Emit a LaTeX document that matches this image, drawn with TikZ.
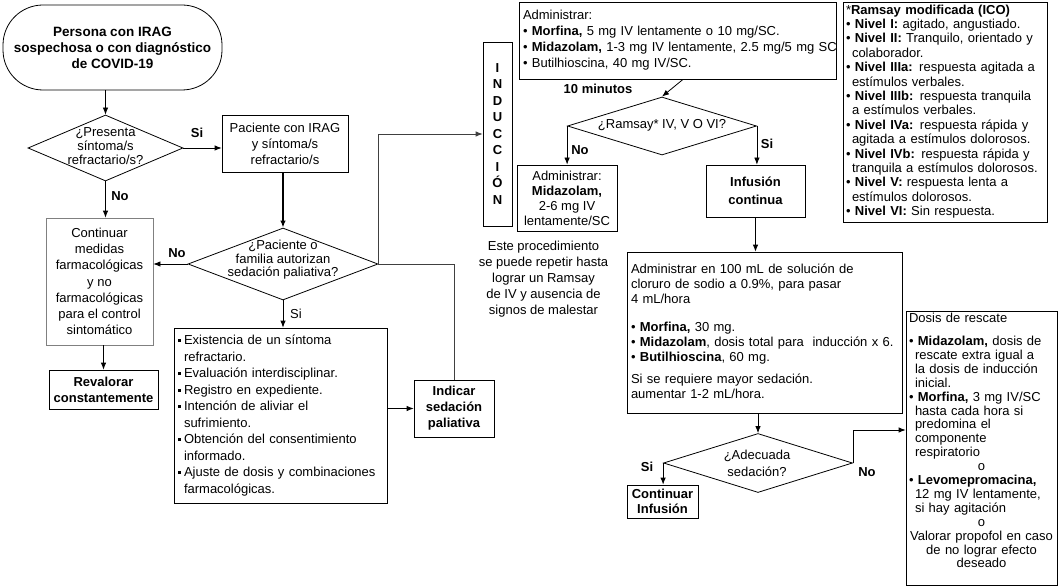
\documentclass[tikz,border=0pt]{standalone}
\usepackage{fontspec}
\setmainfont{Liberation Sans}
\usetikzlibrary{arrows.meta,shapes.geometric,calc}
\newcommand{\sqb}{\raisebox{2.5pt}{\rule{3pt}{3pt}}\hspace{3pt}}
\newcommand{\ind}{\hspace*{6pt}}
\newcommand{\rows}[1]{\begin{tabular}{@{}l@{}}#1\end{tabular}}
\begin{document}
\begin{tikzpicture}[x=1pt,y=-1pt,
  font=\fontsize{13}{15}\selectfont,
  box/.style={draw, rectangle, inner sep=0pt, align=center, line width=0.8pt},
  lbox/.style={box, align=left},
  dia/.style={draw, diamond, inner sep=0pt, line width=0.8pt},
  lab/.style={inner sep=0pt, font=\fontsize{13}{15}\selectfont\bfseries},
  txt/.style={inner sep=0pt, align=center},
  arr/.style={-{Latex[length=7pt,width=5.5pt]}, line width=0.8pt},
  ln/.style={line width=0.8pt}]
\useasboundingbox (0,0) rectangle (1059,588);

% left column
\node[box, rounded corners=40pt, minimum width=219pt, minimum height=85pt,
  font=\fontsize{13.5}{16}\selectfont\bfseries] (start) at (112.5,47.5)
  {Persona con IRAG\\sospechosa o con diagnóstico\\de COVID-19};
\node[dia, minimum width=155pt, minimum height=66pt] (d1) at (105.5,148) {};
\node[txt, font=\fontsize{13}{14}\selectfont] (d1t) at (105.5,146)
  {¿Presenta\\síntoma/s\\refractario/s?};
\node[box, minimum width=126pt, minimum height=57pt,
  font=\fontsize{13}{16}\selectfont] (pac) at (285,143.5)
  {Paciente con IRAG\\y síntoma/s\\refractario/s};
\node[dia, minimum width=190pt, minimum height=72pt] (d2) at (283,264) {};
\node[txt, font=\fontsize{13}{13.5}\selectfont] (d2t) at (283,260)
  {¿Paciente o\\familia autorizan\\sedación paliativa?};
\node[box, draw=black!50, minimum width=107pt, minimum height=127pt,
  font=\fontsize{13}{16.2}\selectfont] (cont) at (99.5,281.5)
  {Continuar\\medidas\\farmacológicas\\y no\\farmacológicas\\para el control\\sintomático};
\node[box, minimum width=109pt, minimum height=39pt,
  font=\fontsize{13}{16}\selectfont\bfseries] (reval) at (103.5,389.5)
  {Revalorar\\constantemente};
\node[lbox, minimum width=213pt, minimum height=175pt, text width=205pt,
  font=\fontsize{13}{16.5}\selectfont] (list) at (280.5,415.5)
  {\rows{\sqb Existencia de un síntoma\\
   \ind refractario.\\
   \sqb Evaluación interdisciplinar.\\
   \sqb Registro en expediente.\\
   \sqb Intención de aliviar el\\
   \ind sufrimiento.\\
   \sqb Obtención del consentimiento\\
   \ind informado.\\
   \sqb Ajuste de dosis y combinaciones\\
   \ind farmacológicas.}};
\node[box, minimum width=80pt, minimum height=57pt,
  font=\fontsize{13}{16}\selectfont\bfseries] (indic) at (454,408.5)
  {Indicar\\sedación\\paliativa};

\node[lab] (si1) at (197,133) {Si};
\node[lab] (no1) at (120,196) {No};
\node[lab] (no2) at (177,253) {No};
\node[txt] (si2) at (296,314) {Si};

\draw[arr] (start.south -| d1.north) -- (d1.north);
\draw[arr] (d1.east) -- (d1.east -| pac.west);
\draw[arr] (d1.south) -- (d1.south |- cont.north);
\draw[arr, line width=1.6pt] (pac.south -| d2.north) -- (d2.north);
\draw[arr] (d2.west) -- (d2.west -| cont.east);
\draw[arr] (reval.north |- cont.south) -- (reval.north);
\draw[arr] (d2.south) -- (d2.south |- list.north);
\draw[arr] (list.east |- indic.west) -- (indic.west);

% induction column
\node[box, minimum width=29pt, minimum height=184pt,
  font=\fontsize{13}{16.5}\selectfont\bfseries] (induc) at (497.5,134)
  {I\\N\\D\\U\\C\\C\\I\\Ó\\N};
\draw[arr, draw=black!75] (indic.north) |- (d2.east) |- (induc.west);

\node[lbox, minimum width=317pt, minimum height=77pt, text width=309pt,
  font=\fontsize{13}{16}\selectfont] (adm) at (677.5,40.5)
  {\rows{Administrar:\\
   • \textbf{Morfina,} 5 mg IV lentamente o 10 mg/SC.\\
   • \textbf{Midazolam,} 1-3 mg IV lentamente, 2.5 mg/5 mg SC\\
   • Butilhioscina, 40 mg IV/SC.}};
\node[lab] (diez) at (598,89) {10 minutos};
\node[dia, minimum width=189pt, minimum height=58pt] (d3) at (662,126) {};
\node[txt] (d3t) at (662,125) {¿Ramsay* IV, V O VI?};
\node[box, minimum width=100pt, minimum height=66pt] (mid) at (567,198)
  {Administrar:\\\textbf{Midazolam,}\\2-6 mg IV\\lentamente/SC};
\node[txt, font=\fontsize{13}{16}\selectfont] (nota) at (543.5,279)
  {Este procedimiento\\se puede repetir hasta\\lograr un Ramsay\\de IV y ausencia de\\signos de malestar};
\node[box, minimum width=99pt, minimum height=52pt,
  font=\fontsize{13}{18}\selectfont\bfseries] (inf) at (755.5,191)
  {Infusión\\continua};
\node[lab] (no3) at (580,150) {No};
\node[lab] (si3) at (767,144) {Si};

\draw[arr] ($(adm.south)+(5.5,0)$) -- (d3.north);
\draw[arr] (d3.west) -- (d3.west |- mid.north);
\draw[arr] (d3.east) -- (d3.east |- inf.north);

\node[lbox, minimum width=275pt, minimum height=161pt, text width=267pt] (big) at (764.5,332.5)
  {\rows{Administrar en 100 mL de solución de\\
   cloruro de sodio a 0.9\%, para pasar\\
   4 mL/hora\\[13pt]
   • \textbf{Morfina,} 30 mg.\\
   • \textbf{Midazolam}, dosis total para\ \ inducción x 6.\\
   • \textbf{Butilhioscina}, 60 mg.\\[7pt]
   Si se requiere mayor sedación.\\
   aumentar 1-2 mL/hora.}};
\draw[arr] (inf.south) -- (inf.south |- big.north);

\node[dia, minimum width=189pt, minimum height=59pt] (d4) at (758,463) {};
\node[txt, font=\fontsize{13}{17}\selectfont] (d4t) at (757,463) {¿Adecuada\\sedación?};
\draw[arr] (d4.north |- big.south) -- (d4.north);
\node[box, minimum width=71pt, minimum height=33pt,
  font=\fontsize{13}{15}\selectfont\bfseries] (cinf) at (662.5,501.5)
  {Continuar\\Infusión};
\node[lab] (si4) at (647,467) {Si};
\node[lab] (no4) at (867,472) {No};
\draw[arr] (d4.west) -- (d4.west |- cinf.north);

\node[lbox, minimum width=151pt, minimum height=274pt, text width=145pt,
  font=\fontsize{13}{13.9}\selectfont] (resc) at (981.5,448)
  {\rows{Dosis de rescate\\[9pt]
   • \textbf{Midazolam,} dosis de\\
   \ind rescate extra igual a\\
   \ind la dosis de inducción\\
   \ind inicial.\\
   • \textbf{Morfina,} 3 mg IV/SC\\
   \ind hasta cada hora si\\
   \ind predomina el\\
   \ind componente\\
   \ind respiratorio\\
   \makebox[145pt][c]{o}\\
   • \textbf{Levomepromacina,}\\
   \ind 12 mg IV lentamente,\\
   \ind si hay agitación\\
   \makebox[145pt][c]{o}\\
   \makebox[145pt][c]{Valorar propofol en caso}\\
   \makebox[145pt][c]{de no lograr efecto}\\
   \makebox[145pt][c]{deseado}\\[11pt]}};
\draw[arr] (d4.east) |- ([yshift=18pt]resc.west);

\node[lbox, minimum width=204pt, minimum height=220pt, text width=198pt,
  font=\fontsize{13}{14.4}\selectfont] (ramsay) at (945,112)
  {\rows{*\textbf{Ramsay modificada (ICO)}\\
   • \textbf{Nivel I:} agitado, angustiado.\\
   • \textbf{Nivel II:} Tranquilo, orientado y\\
   \ind colaborador.\\
   • \textbf{Nivel IIIa:} respuesta agitada a\\
   \ind estímulos verbales.\\
   • \textbf{Nivel IIIb:} respuesta tranquila\\
   \ind a estímulos verbales.\\
   • \textbf{Nivel IVa:} respuesta rápida y\\
   \ind agitada a estímulos dolorosos.\\
   • \textbf{Nivel IVb:} respuesta rápida y\\
   \ind tranquila a estímulos dolorosos.\\
   • \textbf{Nivel V:} respuesta lenta a\\
   \ind estímulos dolorosos.\\
   • \textbf{Nivel VI:} Sin respuesta.}};
\end{tikzpicture}
\end{document}
